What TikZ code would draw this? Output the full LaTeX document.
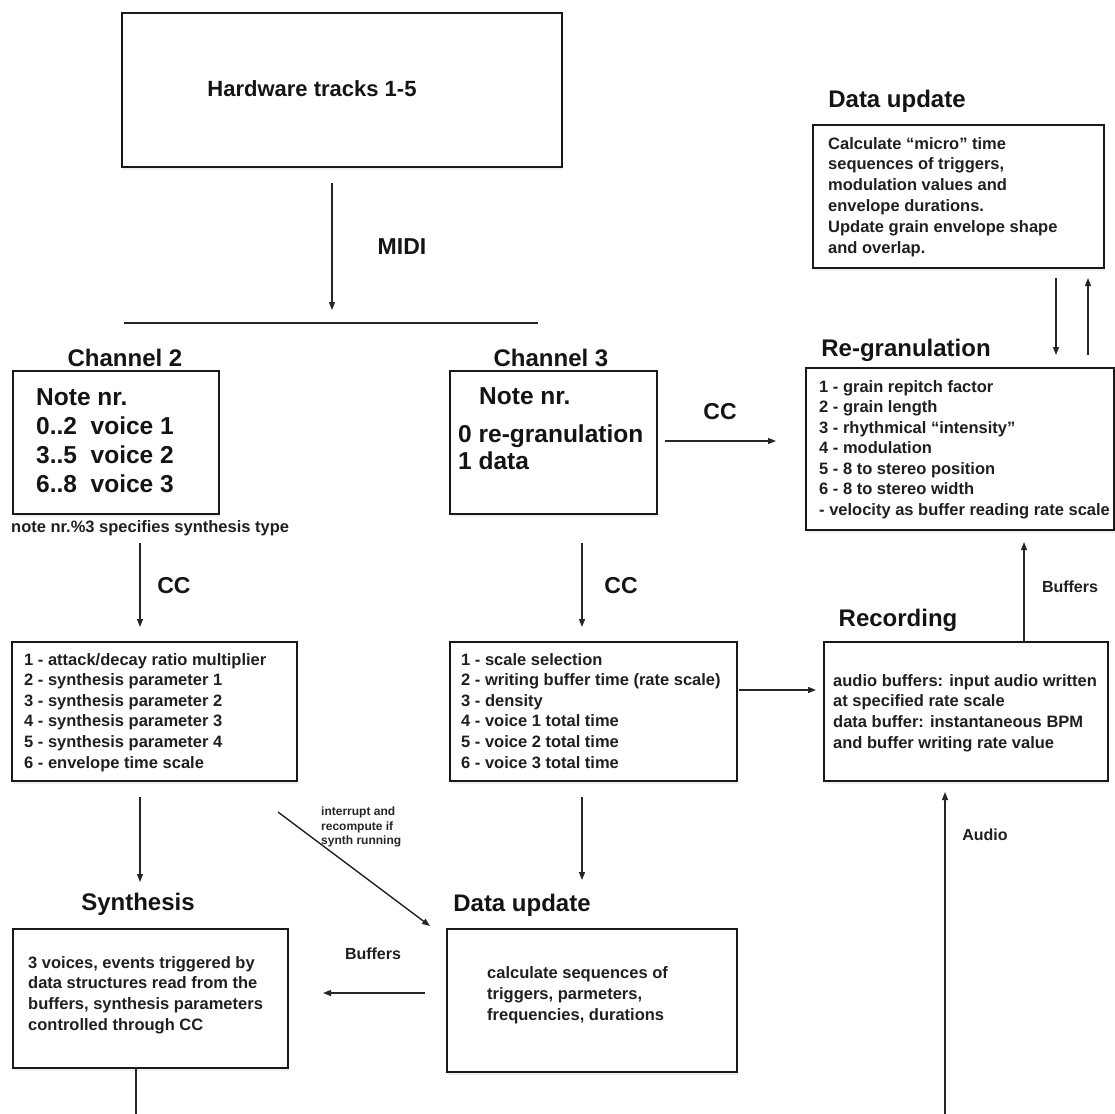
\documentclass[tikz,border=0pt]{standalone}
\usepackage{fontspec}
\setmainfont{Liberation Sans}
\usetikzlibrary{arrows.meta,shadows}
\newcommand\sr{\rule{0pt}{0.75em}}
\begin{document}
\begin{tikzpicture}[x=1pt,y=-1pt,
 box/.style={draw=black!90, line width=1.7pt, fill=white, inner sep=0pt, anchor=north west,
   drop shadow={shadow xshift=1pt,shadow yshift=-3pt,opacity=0.12}},
 title/.style={font=\bfseries\fontsize{24}{28}\selectfont, anchor=base, inner sep=0pt, text=black!92},
 big/.style={font=\bfseries\fontsize{24.5}{29}\selectfont, anchor=north west, align=left, inner sep=0pt, text=black!92},
 body/.style={font=\bfseries\fontsize{16.5}{20.6}\selectfont, anchor=north west, align=left, inner sep=0pt, text=black!88},
 lbl/.style={font=\bfseries\fontsize{23}{27}\selectfont, inner sep=0pt, text=black!92},
 small/.style={font=\bfseries\fontsize{16}{19}\selectfont, inner sep=0pt, text=black!88},
 tiny/.style={font=\bfseries\fontsize{12}{14.5}\selectfont, anchor=north west, align=left, inner sep=0pt, text=black!85},
 arr/.style={line width=1.4pt, draw=black!85, -{Triangle[length=8pt,width=6pt]}},
 ln/.style={line width=1.4pt, draw=black!85}]
\useasboundingbox (0,0) rectangle (1115,1113);

% ---------- boxes ----------
\node[box, minimum width=440pt, minimum height=154pt] (hw) at (121,12) {};
\node[box, minimum width=206pt, minimum height=143pt] (ch2) at (12,370) {};
\node[box, minimum width=207pt, minimum height=143pt] (ch3) at (449,370) {};
\node[box, minimum width=285pt, minimum height=139pt] (cc1) at (11,641) {};
\node[box, minimum width=287pt, minimum height=139pt] (cc2) at (449,641) {};
\node[box, minimum width=284pt, minimum height=139pt] (rec) at (823,641) {};
\node[box, minimum width=308pt, minimum height=162pt] (regr) at (805,367) {};
\node[box, minimum width=291pt, minimum height=143pt] (dtop) at (812,124) {};
\node[box, minimum width=275pt, minimum height=139pt] (syn) at (12,928) {};
\node[box, minimum width=290pt, minimum height=143pt] (dbot) at (446,928) {};

% ---------- titles ----------
\node[title, font=\bfseries\fontsize{22}{26}\selectfont] (thw) at (312,96) {Hardware tracks 1-5};
\node[title] (tch2) at (125,366) {Channel 2};
\node[title] (tch3) at (551,366) {Channel 3};
\node[title] (tregr) at (906,356) {Re-granulation};
\node[title] (tdtop) at (897,108) {Data update};
\node[title] (trec) at (898,626) {Recording};
\node[title] (tsyn) at (138,910) {Synthesis};
\node[title] (tdbot) at (522,911) {Data update};

% ---------- box texts ----------
\node[big] (xch2) at (36,387.2) {\sr Note nr.\\0..2~~voice 1\\3..5~~voice 2\\6..8~~voice 3};
\node[big] (xch3a) at (479,386.2) {\sr Note nr.};
\node[big, font=\bfseries\fontsize{24.5}{27}\selectfont] (xch3b) at (458,424.2) {\sr 0 re-granulation\\1 data};
\node[body, anchor=west] (xnote) at (11,528) {note nr.\%3 specifies synthesis type};
\node[body] (xcc1) at (24,652.6) {\sr 1 - attack/decay ratio multiplier\\2 - synthesis parameter 1\\3 - synthesis parameter 2\\4 - synthesis parameter 3\\5 - synthesis parameter 4\\6 - envelope time scale};
\node[body] (xcc2) at (461,652.6) {\sr 1 - scale selection\\2 - writing buffer time (rate scale)\\3 - density\\4 - voice 1 total time\\5 - voice 2 total time\\6 - voice 3 total time};
\node[body, font=\bfseries\fontsize{16.5}{20.7}\selectfont] (xrec) at (833,673.6) {\sr audio buffers: input audio written\\at specified rate scale\\data buffer: instantaneous BPM\\and buffer writing rate value};
\node[body, font=\bfseries\fontsize{16.5}{20.5}\selectfont] (xregr) at (819,379.6) {\sr 1 - grain repitch factor\\2 - grain length\\3 - rhythmical “intensity”\\4 - modulation\\5 - 8 to stereo position\\6 - 8 to stereo width\\- velocity as buffer reading rate scale};
\node[body, font=\bfseries\fontsize{16.5}{20.8}\selectfont] (xdtop) at (828,136.6) {\sr Calculate “micro” time\\sequences of triggers,\\modulation values and\\envelope durations.\\Update grain envelope shape\\and overlap.};
\node[body, font=\bfseries\fontsize{16.5}{20.7}\selectfont] (xsyn) at (28,955.6) {\sr 3 voices, events triggered by\\data structures read from the\\buffers, synthesis parameters\\controlled through CC};
\node[body, font=\bfseries\fontsize{16.5}{21}\selectfont] (xdbot) at (487,965.6) {\sr calculate sequences of\\triggers, parmeters,\\frequencies, durations};

% ---------- connector labels ----------
\node[lbl] (lmidi) at (402,247) {MIDI};
\node[lbl] (lcc1) at (174,586) {CC};
\node[lbl] (lcc2) at (621,586) {CC};
\node[lbl] (lcc3) at (720,412) {CC};
\node[small] (lbuf1) at (1070,587) {Buffers};
\node[small] (lbuf2) at (373,954) {Buffers};
\node[small] (laud) at (985,835) {Audio};
\node[tiny] (lint) at (321,806.6) {\rule{0pt}{0.75em}interrupt and\\recompute if\\synth running};

% ---------- connector end points ----------
\coordinate (midiA) at (332,183);
\coordinate (midiB) at (332,310);
\coordinate (busL) at (124,323);
\coordinate (busR) at (538,323);
\coordinate (c2a) at (140,543);
\coordinate (c2b) at (140,627);
\coordinate (c3a) at (582,543);
\coordinate (c3b) at (582,627);
\coordinate (crA) at (665,441);
\coordinate (crB) at (776,441);
\coordinate (s1a) at (140,797);
\coordinate (s1b) at (140,882);
\coordinate (s2a) at (582,797);
\coordinate (s2b) at (582,880);
\coordinate (dgA) at (278,812);
\coordinate (dgB) at (430,926);
\coordinate (rcA) at (739,690);
\coordinate (rcB) at (816,690);
\coordinate (bfA) at (425,993);
\coordinate (bfB) at (323,993);
\coordinate (auA) at (136,1067);
\coordinate (auB) at (136,1114.5);
\coordinate (auC) at (945,1114.5);
\coordinate (auD) at (945,792);
\coordinate (buA) at (1024,641);
\coordinate (buB) at (1024,542);
\coordinate (dnA) at (1056,278);
\coordinate (dnB) at (1056,355);
\coordinate (upA) at (1088,355);
\coordinate (upB) at (1088,278);

% ---------- connectors ----------
\draw[arr] (midiA) -- (midiB);
\draw[ln] (busL) -- (busR);
\draw[arr] (c2a) -- (c2b);
\draw[arr] (c3a) -- (c3b);
\draw[arr] (crA) -- (crB);
\draw[arr] (s1a) -- (s1b);
\draw[arr] (s2a) -- (s2b);
\draw[arr] (dgA) -- (dgB);
\draw[arr] (rcA) -- (rcB);
\draw[arr] (bfA) -- (bfB);
\draw[arr] (auA) -- (auB) -- (auC) -- (auD);
\draw[arr] (buA) -- (buB);
\draw[arr] (dnA) -- (dnB);
\draw[arr] (upA) -- (upB);
\end{tikzpicture}
\end{document}
